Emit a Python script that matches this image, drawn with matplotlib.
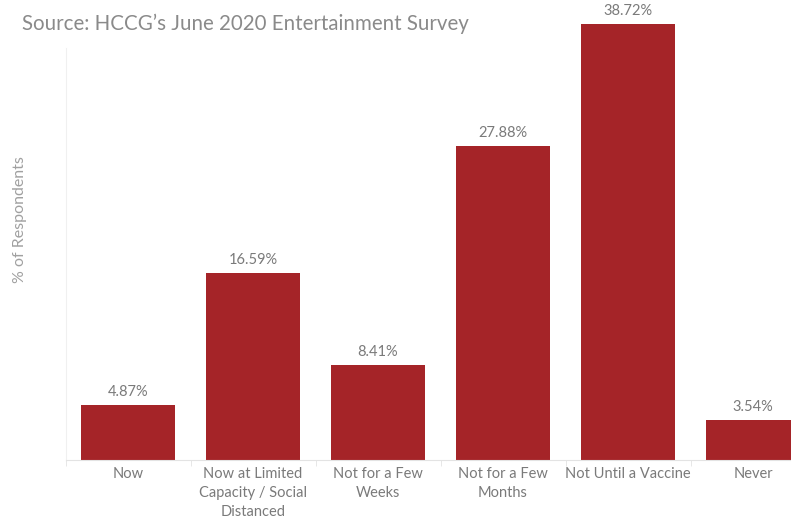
import matplotlib.pyplot as plt
import numpy as np

plt.rc('font', family=['Lato', 'DejaVu Sans'])

############# data ###############
categories = ['Now', 'Now at Limited\nCapacity / Social\nDistanced', 'Not for a Few\nWeeks',
              'Not for a Few\nMonths', 'Not Until a Vaccine', 'Never']
values = [4.87, 16.59, 8.41, 27.88, 38.72, 3.54]
value_labels = ['4.87%', '16.59%', '8.41%', '27.88%', '38.72%', '3.54%']

W, H = 791, 518
fig = plt.figure(figsize=(W / 100, H / 100), dpi=100)

# axes runs past the right edge, last bar is cut off
left, right = 65.5, 815.5
bottom, top = 460, 24
ax = fig.add_axes([left / W, 1 - bottom / H, (right - left) / W, (bottom - top) / H])

bar_color = '#A52428'
x = np.arange(len(categories))
ax.bar(x, values, width=0.752, color=bar_color, zorder=2)

for xi, v, lab in zip(x, values, value_labels):
    ax.text(xi, v + 0.55, lab, ha='center', va='bottom', fontsize=10.5, color='#7a7a7a')

ax.set_xlim(-0.5, len(categories) - 0.5)
ax.set_ylim(0, 38.72)

##### axes styling #####
for s in ['top', 'right']:
    ax.spines[s].set_visible(False)
ax.spines['bottom'].set_color('#e3e3e3')
ax.spines['left'].set_color('#f0f0f0')
ax.spines['left'].set_bounds(0, 36.6)
ax.set_yticks([])

ax.set_xticks(x)
ax.set_xticklabels(categories, fontsize=10.5, color='#7a7a7a', linespacing=1.45)
ax.tick_params(axis='x', which='major', length=0, pad=5)
ax.set_xticks(np.arange(-0.5, len(categories)), minor=True)
ax.tick_params(axis='x', which='minor', length=4, color='#e3e3e3')

##### titles #####
fig.text(22 / W, 1 - 24 / H, 'Source: HCCG\u2019s June 2020 Entertainment Survey',
         fontsize=14.8, color='#8a8a8a', ha='left', va='center')
fig.text(20 / W, 1 - 220 / H, '% of Respondents', rotation=90, fontsize=11.5,
         color='#a0a0a0', ha='center', va='center')

plt.savefig('out.png', dpi=100)
